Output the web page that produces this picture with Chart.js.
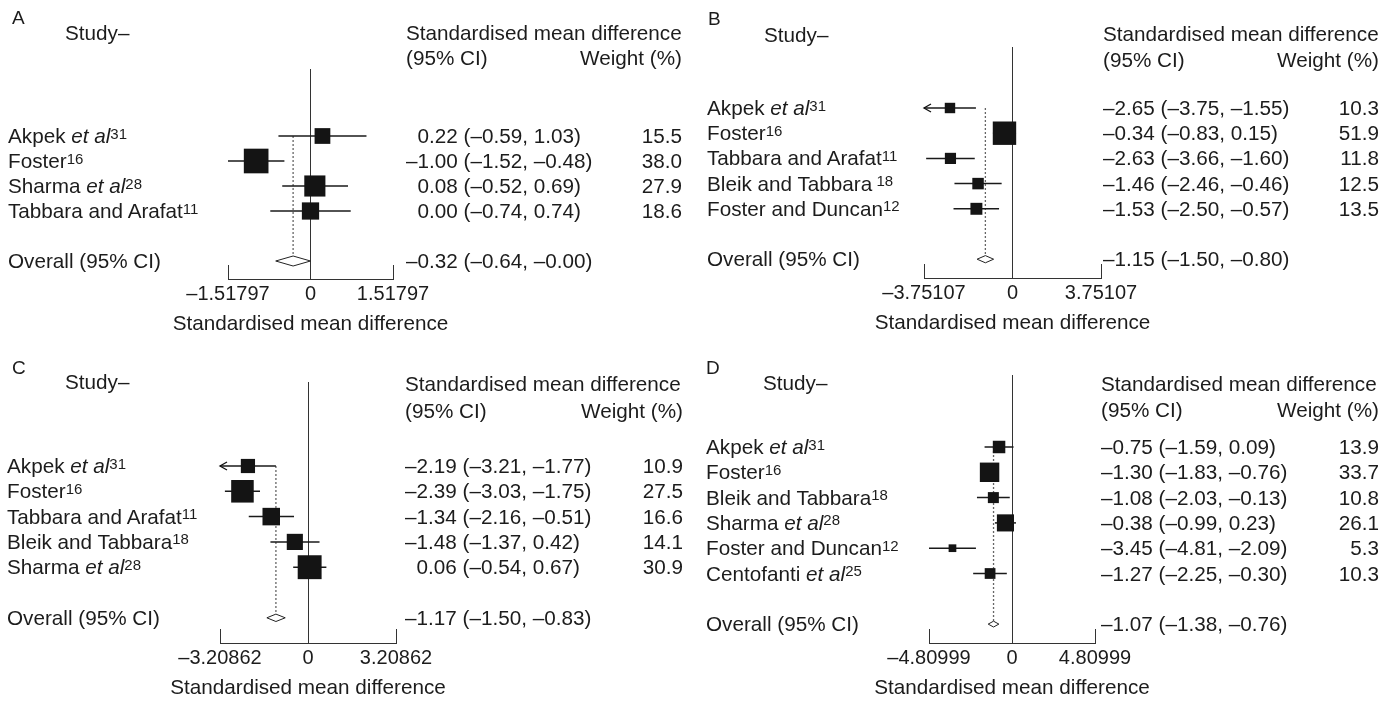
<!DOCTYPE html>
<html>
<head>
<meta charset="utf-8">
<script src="https://cdn.jsdelivr.net/npm/chart.js@4.4.1/dist/chart.umd.min.js"></script>
<style>
  html, body { margin: 0; padding: 0; background: #fff; }
  #page { position: relative; width: 1395px; height: 701px; overflow: hidden;
          font-family: "Liberation Sans", Arial, sans-serif; color: #1c1c1c; }
  .panel { position: absolute; }
  .panel canvas { position: absolute; left: 0; top: 0; }
  .t { position: absolute; white-space: nowrap; line-height: 1; font-size: 20.7px; transform: translateY(-50%); }
  .t.r { transform: translate(-100%, -50%); }
  .t.c { transform: translate(-50%, -50%); }
  .t.pos { padding-left: 0.556em; }
  .t sup { font-size: 15px; line-height: 0; vertical-align: baseline; position: relative; top: -4.5px; }
</style>
</head>
<body>
<div id="page"></div>
<script>
// ---- data: panel A
const studiesA = ['Akpek et al', 'Foster', 'Sharma et al', 'Tabbara and Arafat'];
const refsA = ['31', '16', '28', '11'];
const smdA = [0.22, -1.00, 0.08, 0.00];
const lowerA = [-0.59, -1.51797, -0.52, -0.74];
const upperA = [1.03, -0.48, 0.69, 0.74];
const weightsA = [15.5, 38.0, 27.9, 18.6];
const ciLabelsA = ['0.22 (–0.59, 1.03)', '–1.00 (–1.52, –0.48)', '0.08 (–0.52, 0.69)', '0.00 (–0.74, 0.74)'];
const overallA = [-0.32, -0.64, 0.00];
const overallLabelA = '–0.32 (–0.64, –0.00)';
const ticksA = [-1.51797, 0, 1.51797];

// ---- data: panel B
const studiesB = ['Akpek et al', 'Foster', 'Tabbara and Arafat', 'Bleik and Tabbara', 'Foster and Duncan'];
const refsB = ['31', '16', '11', ' 18', '12'];
const smdB = [-2.65, -0.34, -2.63, -1.46, -1.53];
const lowerB = [-3.76, -0.83, -3.66, -2.46, -2.50];
const upperB = [-1.55, 0.15, -1.60, -0.46, -0.57];
const weightsB = [10.3, 51.9, 11.8, 12.5, 13.5];
const ciLabelsB = ['–2.65 (–3.75, –1.55)', '–0.34 (–0.83, 0.15)', '–2.63 (–3.66, –1.60)', '–1.46 (–2.46, –0.46)', '–1.53 (–2.50, –0.57)'];
const overallB = [-1.15, -1.50, -0.80];
const overallLabelB = '–1.15 (–1.50, –0.80)';
const ticksB = [-3.75107, 0, 3.75107];

// ---- data: panel C
const studiesC = ['Akpek et al', 'Foster', 'Tabbara and Arafat', 'Bleik and Tabbara', 'Sharma et al'];
const refsC = ['31', '16', '11', '18', '28'];
const smdC = [-2.19, -2.39, -1.34, -0.48, 0.06];
const lowerC = [-3.21, -3.03, -2.16, -1.37, -0.54];
const upperC = [-1.17, -1.75, -0.51, 0.42, 0.67];
const weightsC = [10.9, 27.5, 16.6, 14.1, 30.9];
const ciLabelsC = ['–2.19 (–3.21, –1.77)', '–2.39 (–3.03, –1.75)', '–1.34 (–2.16, –0.51)', '–1.48 (–1.37, 0.42)', '0.06 (–0.54, 0.67)'];
const overallC = [-1.17, -1.50, -0.83];
const overallLabelC = '–1.17 (–1.50, –0.83)';
const ticksC = [-3.20862, 0, 3.20862];

// ---- data: panel D
const studiesD = ['Akpek et al', 'Foster', 'Bleik and Tabbara', 'Sharma et al', 'Foster and Duncan', 'Centofanti et al'];
const refsD = ['31', '16', '18', '28', '12', '25'];
const smdD = [-0.75, -1.30, -1.08, -0.38, -3.45, -1.27];
const lowerD = [-1.59, -1.83, -2.03, -0.99, -4.80999, -2.25];
const upperD = [0.09, -0.76, -0.13, 0.23, -2.09, -0.30];
const weightsD = [13.9, 33.7, 10.8, 26.1, 5.3, 10.3];
const ciLabelsD = ['–0.75 (–1.59, 0.09)', '–1.30 (–1.83, –0.76)', '–1.08 (–2.03, –0.13)', '–0.38 (–0.99, 0.23)', '–3.45 (–4.81, –2.09)', '–1.27 (–2.25, –0.30)'];
const overallD = [-1.07, -1.38, -0.76];
const overallLabelD = '–1.07 (–1.38, –0.76)';
const ticksD = [-4.80999, 0, 4.80999];

const axisTitle = 'Standardised mean difference';

// ---- layout (pixels inside each panel)
const layouts = {
  A: { left: 0, top: 0, w: 695, plotL: 228, plotR: 393, plotT: 69, plotB: 279, row0: 136, rowH: 25, box: 4.0, dia: 5,
       letterX: 12, letterY: 16.5, studyX: 65, studyY: 33, nameX: 8, textX: 406, weightX: 682, head1Y: 32.5, head2Y: 57.5 },
  B: { left: 695, top: 0, w: 700, plotL: 229, plotR: 406, plotT: 47, plotB: 278, row0: 108, rowH: 25.2, box: 3.25, dia: 3.6,
       letterX: 13, letterY: 18, studyX: 69, studyY: 34.5, nameX: 12, textX: 408, weightX: 684, head1Y: 33.5, head2Y: 59.5 },
  C: { left: 0, top: 340, w: 695, plotL: 220, plotR: 396, plotT: 42, plotB: 303, row0: 126, rowH: 25.3, box: 4.3, dia: 3.7,
       letterX: 12, letterY: 27, studyX: 65, studyY: 42, nameX: 7, textX: 405, weightX: 683, head1Y: 44, head2Y: 70.5 },
  D: { left: 695, top: 340, w: 700, plotL: 234, plotR: 400, plotT: 35, plotB: 303, row0: 107, rowH: 25.3, box: 3.35, dia: 2.9,
       letterX: 11, letterY: 26.5, studyX: 68, studyY: 42.5, nameX: 11, textX: 406, weightX: 684, head1Y: 44, head2Y: 70 }
};

Chart.defaults.font.family = '"Liberation Sans", Arial, sans-serif';
Chart.defaults.color = '#1c1c1c';

// open arrow head used where a CI runs past the axis
const arrowImg = document.createElement('canvas');
arrowImg.width = 18; arrowImg.height = 10;
(function () {
  const ac = arrowImg.getContext('2d');
  ac.strokeStyle = '#111'; ac.lineWidth = 1.3;
  ac.beginPath(); ac.moveTo(16, 1); ac.lineTo(9, 5); ac.lineTo(16, 9); ac.stroke();
})();

function addText(parent, html, x, y, cls) {
  const el = document.createElement('div');
  el.className = 't' + (cls ? ' ' + cls : '');
  el.style.left = x + 'px';
  el.style.top = y + 'px';
  el.innerHTML = html;
  parent.appendChild(el);
  return el;
}

function studyHtml(name, ref) {
  return name.replace('et al', '<i>et al</i>') + '<sup>' + ref + '</sup>';
}

function fmtTick(v) {
  if (v === 0) return '0';
  return (v < 0 ? '–' : '') + Math.abs(v);
}

function buildPanel(key, d) {
  const L = layouts[key];
  const page = document.getElementById('page');
  const panel = document.createElement('div');
  panel.className = 'panel';
  panel.style.left = L.left + 'px';
  panel.style.top = L.top + 'px';
  panel.style.width = L.w + 'px';
  panel.style.height = (L.plotB + 61) + 'px';
  page.appendChild(panel);

  const canvas = document.createElement('canvas');
  canvas.width = L.w;
  canvas.height = L.plotB + 61;
  canvas.style.width = L.w + 'px';
  canvas.style.height = (L.plotB + 61) + 'px';
  panel.appendChild(canvas);

  const n = d.studies.length;
  const overallRow = n + 1;
  const M = d.ticks[d.ticks.length - 1];
  const [oe, ol, oh] = d.overall;
  const h = L.dia / L.rowH;

  const datasets = [];
  // study boxes, area follows weight
  datasets.push({
    data: d.smd.map((v, i) => ({ x: v, y: i })),
    pointStyle: 'rect',
    pointRadius: d.weights.map(w => L.box * Math.sqrt(w) / Math.SQRT2),
    backgroundColor: '#141414',
    borderWidth: 0,
    clip: false
  });
  const cut = [];
  d.lower.forEach((v, i) => { if (v < -M) cut.push({ x: -M, y: i }); });
  if (cut.length) {
    datasets.push({ data: cut, pointStyle: arrowImg, pointRadius: 5, clip: false });
  }
  // overall diamond
  datasets.push({
    data: [{ x: ol, y: overallRow }, { x: oe, y: overallRow - h }, { x: oh, y: overallRow },
           { x: oe, y: overallRow + h }, { x: ol, y: overallRow }],
    showLine: true, borderColor: '#222', borderWidth: 1, pointRadius: 0, tension: 0, clip: false
  });
  // confidence intervals
  d.smd.forEach((v, i) => {
    datasets.push({
      data: [{ x: Math.max(d.lower[i], -M), y: i }, { x: d.upper[i], y: i }],
      showLine: true, borderColor: '#1a1a1a', borderWidth: 1.5, pointRadius: 0, clip: false
    });
  });
  // dotted line at the pooled estimate
  datasets.push({
    data: [{ x: oe, y: 0 }, { x: oe, y: overallRow - h }],
    showLine: true, borderColor: '#666', borderWidth: 1.3, borderDash: [2, 2], pointRadius: 0, clip: false
  });

  const chart = new Chart(canvas.getContext('2d'), {
    type: 'scatter',
    data: { datasets },
    options: {
      responsive: false,
      animation: false,
      events: [],
      layout: { padding: { left: L.plotL, right: L.w - L.plotR, top: L.plotT, bottom: 0 } },
      plugins: { legend: { display: false }, tooltip: { enabled: false } },
      scales: {
        x: {
          type: 'linear',
          position: 'bottom',
          min: -M,
          max: M,
          afterBuildTicks: s => { s.ticks = d.ticks.map(v => ({ value: v })); },
          afterFit: s => { s.height = 61; },
          ticks: { callback: v => fmtTick(v), font: { size: 20 }, padding: 17, maxRotation: 0, autoSkip: false, color: '#1c1c1c' },
          grid: {
            drawOnChartArea: true,
            drawTicks: true,
            tickLength: -14,
            lineWidth: 1,
            color: c => (c.tick && c.tick.value === 0 ? '#333' : 'rgba(0,0,0,0)'),
            tickColor: '#333'
          },
          border: { display: true, color: '#333', width: 1 },
          title: { display: false }
        },
        y: {
          type: 'linear',
          display: false,
          reverse: true,
          min: (L.plotT - L.row0) / L.rowH,
          max: (L.plotB - L.row0) / L.rowH
        }
      }
    }
  });

  const ys = chart.scales.y;
  const xs = chart.scales.x;
  addText(panel, key, L.letterX, L.letterY).style.fontSize = '19px';
  addText(panel, 'Study–', L.studyX, L.studyY);
  addText(panel, 'Standardised mean difference', L.textX, L.head1Y);
  addText(panel, '(95% CI)', L.textX, L.head2Y);
  addText(panel, 'Weight (%)', L.weightX, L.head2Y, 'r');
  addText(panel, axisTitle, xs.getPixelForValue(0), xs.top + 44, 'c');

  d.studies.forEach((name, i) => {
    const y = ys.getPixelForValue(i);
    addText(panel, studyHtml(name, d.refs[i]), L.nameX, y);
    const lab = d.ciLabels[i];
    addText(panel, lab, L.textX, y, lab.charAt(0) === '–' ? '' : 'pos');
    addText(panel, d.weights[i].toFixed(1), L.weightX, y, 'r');
  });
  const yo = ys.getPixelForValue(overallRow);
  addText(panel, 'Overall (95% CI)', L.nameX, yo);
  addText(panel, d.overallLabel, L.textX, yo, d.overallLabel.charAt(0) === '–' ? '' : 'pos');
}

buildPanel('A', { studies: studiesA, refs: refsA, smd: smdA, lower: lowerA, upper: upperA, weights: weightsA,
  ciLabels: ciLabelsA, overall: overallA, overallLabel: overallLabelA, ticks: ticksA });
buildPanel('B', { studies: studiesB, refs: refsB, smd: smdB, lower: lowerB, upper: upperB, weights: weightsB,
  ciLabels: ciLabelsB, overall: overallB, overallLabel: overallLabelB, ticks: ticksB });
buildPanel('C', { studies: studiesC, refs: refsC, smd: smdC, lower: lowerC, upper: upperC, weights: weightsC,
  ciLabels: ciLabelsC, overall: overallC, overallLabel: overallLabelC, ticks: ticksC });
buildPanel('D', { studies: studiesD, refs: refsD, smd: smdD, lower: lowerD, upper: upperD, weights: weightsD,
  ciLabels: ciLabelsD, overall: overallD, overallLabel: overallLabelD, ticks: ticksD });
</script>
</body>
</html>
